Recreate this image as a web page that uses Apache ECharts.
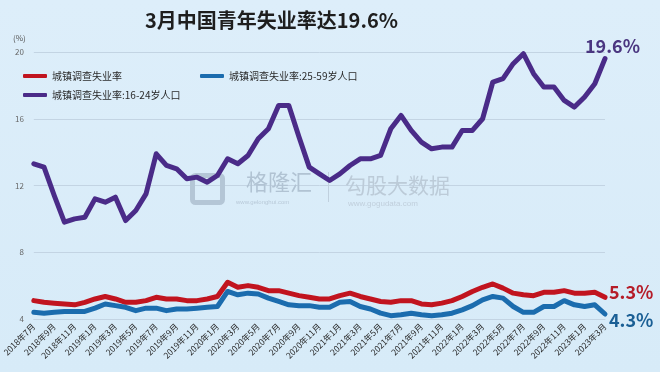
<!DOCTYPE html>
<html>
<head>
<meta charset="utf-8">
<script src="https://cdn.jsdelivr.net/npm/echarts@6/dist/echarts.min.js"></script>
<style>
html,body{margin:0;padding:0;background:#dcedf9;}
#c{width:660px;height:372px;}
</style>
</head>
<body>
<div id="c"></div>
<script>
const categories = [
 '2018年7月','2018年8月','2018年9月','2018年10月','2018年11月','2018年12月',
 '2019年1月','2019年2月','2019年3月','2019年4月','2019年5月','2019年6月','2019年7月','2019年8月','2019年9月','2019年10月','2019年11月','2019年12月',
 '2020年1月','2020年2月','2020年3月','2020年4月','2020年5月','2020年6月','2020年7月','2020年8月','2020年9月','2020年10月','2020年11月','2020年12月',
 '2021年1月','2021年2月','2021年3月','2021年4月','2021年5月','2021年6月','2021年7月','2021年8月','2021年9月','2021年10月','2021年11月','2021年12月',
 '2022年1月','2022年2月','2022年3月','2022年4月','2022年5月','2022年6月','2022年7月','2022年8月','2022年9月','2022年10月','2022年11月','2022年12月',
 '2023年1月','2023年2月','2023年3月'
];
const seriesNames = ['城镇调查失业率','城镇调查失业率:25-59岁人口','城镇调查失业率:16-24岁人口'];
const totalRate = [5.1,5.0,4.95,4.9,4.85,5.0, 5.2,5.35,5.2,5.0,5.0,5.1,5.3,5.2,5.2,5.1,5.1,5.2,
 5.35,6.2,5.9,6.0,5.9,5.7,5.7,5.55,5.4,5.3,5.2,5.2, 5.4,5.55,5.35,5.2,5.05,5.0,5.1,5.1,4.9,4.85,4.95,5.1,
 5.35,5.65,5.9,6.1,5.85,5.55,5.45,5.4,5.6,5.6,5.7,5.55, 5.55,5.6,5.3];
const rate25to59 = [4.4,4.35,4.4,4.45,4.45,4.45, 4.65,4.9,4.8,4.7,4.5,4.65,4.65,4.5,4.6,4.6,4.65,4.7,
 4.75,5.65,5.45,5.55,5.5,5.25,5.05,4.85,4.8,4.8,4.7,4.7, 5.0,5.05,4.75,4.6,4.35,4.2,4.25,4.35,4.25,4.2,4.25,4.35,
 4.55,4.8,5.15,5.35,5.25,4.75,4.4,4.4,4.75,4.75,5.1,4.85, 4.75,4.85,4.3];
const rate16to24 = [13.3,13.1,11.4,9.8,10.0,10.1, 11.2,11.0,11.3,9.9,10.5,11.5,13.9,13.2,13.0,12.4,12.5,12.2,
 12.6,13.6,13.3,13.8,14.8,15.4,16.8,16.8,14.9,13.1,12.7,12.3, 12.7,13.2,13.6,13.6,13.8,15.4,16.2,15.3,14.6,14.2,14.3,14.3,
 15.3,15.3,16.0,18.2,18.4,19.3,19.9,18.7,17.9,17.9,17.1,16.7, 17.3,18.1,19.6];
const yTicks = {min:4, max:20, interval:4};
const titleText = '3月中国青年失业率达19.6%';

const RED = '#c1141f', BLUE = '#1b6cae', PURPLE = '#4a2b88';
const FONT = '"Noto Sans CJK SC","Noto Sans",sans-serif';
const chart = echarts.init(document.getElementById('c'), null, {renderer:'canvas'});

function endLbl(color, offset){
  return {show:true, formatter: p => p.value + '%', color: color, fontSize: 18, fontWeight: 'bold',
    fontFamily: FONT, offset: offset, distance: 4};
}
const lineSeries = (name, data, color, z, lbl) => ({
  name, type:'line', data, symbol:'none', smooth:false, z,
  lineStyle:{color, width:5, cap:'round', join:'round'}, itemStyle:{color},
  endLabel: lbl, emphasis:{disabled:true}
});

chart.setOption({
  backgroundColor: {type:'linear', x:0, y:0, x2:0, y2:1, colorStops:[{offset:0,color:'#ddeefa'},{offset:1,color:'#d7ebf8'}]},
  animation:false,
  textStyle:{fontFamily:FONT},
  title:{text:titleText, left:140, top:5, textStyle:{fontSize:20, fontWeight:'bold', color:'#1e1e1e', fontFamily:FONT}},
  legend:[
    {data:[seriesNames[0], seriesNames[1]], left:18, top:66, itemWidth:24, itemHeight:4, itemGap:78, icon:'roundRect',
     textStyle:{fontSize:10, color:'#2a2a2a', fontFamily:FONT}},
    {data:[seriesNames[2]], left:18, top:85, itemWidth:24, itemHeight:4, icon:'roundRect',
     textStyle:{fontSize:10, color:'#2a2a2a', fontFamily:FONT}}
  ],
  grid:{left:30, right:55, top:52, bottom:53},
  xAxis:{type:'category', data:categories, boundaryGap:false,
    axisLine:{show:true, lineStyle:{color:'#c3d4e3'}}, axisTick:{show:false},
    axisLabel:{interval:1, rotate:45, fontSize:8.5, color:'#2a2a2a', margin:6, fontFamily:FONT}},
  yAxis:{type:'value', min:yTicks.min, max:yTicks.max, interval:yTicks.interval,
    name:'(%)', nameLocation:'end', nameGap:10,
    nameTextStyle:{fontSize:8, color:'#555', align:'right', padding:[0,8,0,0]},
    axisLine:{show:false}, axisTick:{show:false},
    axisLabel:{fontSize:8, color:'#666', margin:10},
    splitLine:{lineStyle:{color:'#c3d4e3', width:1}}},
  graphic:[
    {type:'rect', left:190, top:173, shape:{width:30, height:27, r:3}, style:{fill:'none', stroke:'#b4c6d6', lineWidth:5}, z:1, silent:true},
    {type:'text', left:246, top:171, style:{text:'格隆汇', fontSize:22, fill:'#b1c3d3', fontFamily:FONT}, z:1, silent:true},
    {type:'text', left:236, top:199, style:{text:'www.gelonghui.com', fontSize:6, fill:'#b8c9d8'}, z:1, silent:true},
    {type:'rect', left:328, top:172, shape:{width:1, height:30}, style:{fill:'#c0d0de'}, z:1, silent:true},
    {type:'text', left:345, top:175, style:{text:'勾股大数据', fontSize:21, fill:'#bccbd8', fontFamily:FONT}, z:1, silent:true},
    {type:'text', left:348, top:200, style:{text:'www.gogudata.com', fontSize:8, fill:'#c0cfdc'}, z:1, silent:true}
  ],
  series:[
    lineSeries(seriesNames[2], rate16to24, PURPLE, 3, endLbl('#4a3680', [-24,-13])),
    lineSeries(seriesNames[0], totalRate, RED, 4, endLbl('#b51c28', [0,-5])),
    lineSeries(seriesNames[1], rate25to59, BLUE, 5, endLbl('#1a5f95', [0,6]))
  ]
});
</script>
</body>
</html>
